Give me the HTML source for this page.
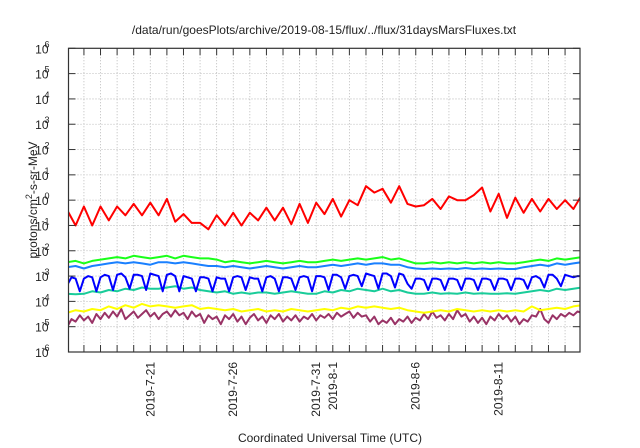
<!DOCTYPE html>
<html><head><meta charset="utf-8"><style>
html,body{margin:0;padding:0;background:#fff;}
svg{display:block;font-family:"Liberation Sans",sans-serif;}
</style></head><body>
<svg width="640" height="448" viewBox="0 0 640 448">
<rect width="640" height="448" fill="#fff"/>
<text x="324" y="34" font-size="12" text-anchor="middle" fill="#222">/data/run/goesPlots/archive/2019-08-15/flux/../flux/31daysMarsFluxes.txt</text>
<g id="grid"></g>
<g id="series"></g>
<g id="axes"></g>
<text transform="translate(37,200) rotate(-90)" font-size="12" text-anchor="middle" fill="#222">protons/cm<tspan dy="-5" font-size="9">2</tspan><tspan dy="5">-s-sr-MeV</tspan></text>
<text x="330" y="442" font-size="12" text-anchor="middle" fill="#222">Coordinated Universal Time (UTC)</text>
</svg>
<script>
const yTicks=[-6,-5,-4,-3,-2,-1,0,1,2,3,4,5,6];
const xLabels=["2019-7-21","2019-7-26","2019-7-31","2019-8-1","2019-8-6","2019-8-11"];
const xLabelDays=[5,10,15,16,21,26];
const red=[-0.4,-1.0,-0.25,-1.0,-0.25,-0.8,-0.25,-0.6,-0.15,-0.6,-0.1,-0.6,0.05,-0.85,-0.55,-0.9,-0.9,-1.15,-0.6,-1.0,-0.5,-1.0,-0.5,-0.8,-0.3,-0.8,-0.3,-0.95,-0.15,-0.9,-0.1,-0.55,0.05,-0.65,0.0,-0.2,0.55,0.3,0.45,-0.1,0.55,-0.15,-0.25,-0.2,0.05,-0.35,0.15,0.0,0.0,0.2,0.5,-0.45,0.25,-0.7,0.1,-0.5,0.05,-0.45,0.05,-0.35,0.0,-0.35,0.2];
const green=[-2.45,-2.4,-2.5,-2.4,-2.35,-2.3,-2.25,-2.3,-2.2,-2.25,-2.3,-2.25,-2.2,-2.3,-2.2,-2.25,-2.3,-2.3,-2.35,-2.45,-2.4,-2.45,-2.5,-2.45,-2.4,-2.45,-2.5,-2.45,-2.4,-2.45,-2.45,-2.4,-2.35,-2.4,-2.35,-2.3,-2.35,-2.3,-2.25,-2.35,-2.3,-2.4,-2.5,-2.5,-2.45,-2.5,-2.45,-2.5,-2.45,-2.5,-2.45,-2.5,-2.45,-2.5,-2.5,-2.45,-2.4,-2.35,-2.4,-2.3,-2.35,-2.3,-2.25];
const lightBlue=[-2.65,-2.6,-2.7,-2.6,-2.55,-2.5,-2.45,-2.5,-2.45,-2.5,-2.55,-2.45,-2.45,-2.5,-2.45,-2.5,-2.55,-2.6,-2.6,-2.65,-2.6,-2.65,-2.7,-2.65,-2.6,-2.65,-2.7,-2.65,-2.6,-2.65,-2.65,-2.6,-2.55,-2.6,-2.55,-2.5,-2.55,-2.5,-2.5,-2.55,-2.55,-2.65,-2.7,-2.72,-2.7,-2.72,-2.7,-2.72,-2.68,-2.72,-2.7,-2.72,-2.7,-2.72,-2.72,-2.65,-2.6,-2.55,-2.6,-2.5,-2.55,-2.5,-2.45];
const blue=[-3.35,-3.05,-3.1,-3.6,-3.1,-3.0,-3.05,-3.6,-3.05,-2.95,-3.0,-3.55,-2.95,-2.9,-3.05,-3.5,-2.95,-2.95,-3.0,-3.55,-2.9,-2.95,-3.0,-3.6,-2.95,-2.9,-3.0,-3.6,-3.0,-3.05,-3.1,-3.6,-3.05,-3.05,-3.1,-3.6,-3.05,-3.1,-3.1,-3.6,-3.05,-3.0,-3.05,-3.55,-3.05,-3.1,-3.1,-3.6,-3.05,-3.0,-3.1,-3.6,-3.05,-3.05,-3.1,-3.55,-3.05,-3.0,-3.05,-3.6,-3.0,-3.0,-3.05,-3.55,-2.95,-2.95,-3.05,-3.5,-3.0,-2.95,-3.0,-3.4,-2.9,-2.95,-3.0,-3.5,-2.9,-2.9,-3.0,-3.45,-2.9,-2.95,-3.3,-3.5,-3.1,-3.1,-3.15,-3.55,-3.1,-3.1,-3.15,-3.55,-3.1,-3.1,-3.15,-3.55,-3.1,-3.1,-3.15,-3.55,-3.1,-3.1,-3.15,-3.55,-3.1,-3.1,-3.15,-3.55,-3.1,-3.1,-3.15,-3.5,-3.05,-3.0,-3.1,-3.45,-2.95,-2.95,-3.1,-3.4,-2.95,-3.0,-3.05,-3.0,-3.0];
const teal=[-3.7,-3.72,-3.7,-3.6,-3.65,-3.55,-3.6,-3.5,-3.55,-3.45,-3.5,-3.5,-3.45,-3.4,-3.5,-3.45,-3.55,-3.6,-3.65,-3.6,-3.7,-3.65,-3.7,-3.65,-3.65,-3.7,-3.65,-3.6,-3.65,-3.7,-3.7,-3.6,-3.65,-3.55,-3.6,-3.5,-3.55,-3.6,-3.5,-3.6,-3.55,-3.65,-3.7,-3.7,-3.65,-3.7,-3.68,-3.7,-3.65,-3.7,-3.68,-3.7,-3.7,-3.68,-3.7,-3.65,-3.6,-3.55,-3.6,-3.5,-3.55,-3.5,-3.45];
const yellow=[-4.45,-4.35,-4.4,-4.3,-4.35,-4.2,-4.3,-4.15,-4.25,-4.1,-4.2,-4.15,-4.2,-4.25,-4.2,-4.15,-4.3,-4.25,-4.3,-4.35,-4.3,-4.4,-4.35,-4.3,-4.4,-4.35,-4.4,-4.3,-4.35,-4.4,-4.35,-4.3,-4.35,-4.25,-4.3,-4.2,-4.25,-4.2,-4.25,-4.3,-4.25,-4.35,-4.4,-4.45,-4.4,-4.35,-4.4,-4.3,-4.35,-4.4,-4.35,-4.4,-4.35,-4.4,-4.35,-4.4,-4.2,-4.35,-4.3,-4.25,-4.3,-4.2,-4.15];
const purple=[-5.0,-4.7,-4.8,-4.55,-4.75,-4.6,-4.85,-4.5,-4.7,-4.45,-4.65,-4.4,-4.6,-4.3,-4.7,-4.55,-4.4,-4.65,-4.5,-4.35,-4.6,-4.45,-4.7,-4.5,-4.4,-4.6,-4.35,-4.55,-4.45,-4.7,-4.4,-4.6,-4.5,-4.85,-4.55,-4.7,-4.6,-4.9,-4.55,-4.7,-4.5,-4.8,-4.6,-4.9,-4.65,-4.5,-4.75,-4.6,-4.85,-4.55,-4.7,-4.5,-4.8,-4.6,-4.75,-4.55,-4.8,-4.6,-4.7,-4.5,-4.75,-4.55,-4.65,-4.5,-4.7,-4.45,-4.6,-4.5,-4.4,-4.65,-4.45,-4.6,-4.55,-4.8,-4.6,-4.9,-4.75,-4.85,-4.65,-4.9,-4.7,-4.8,-4.6,-4.85,-4.65,-4.75,-4.5,-4.7,-4.4,-4.65,-4.55,-4.75,-4.5,-4.7,-4.35,-4.6,-4.5,-4.8,-4.6,-4.85,-4.65,-4.9,-4.6,-4.75,-4.5,-4.7,-4.55,-4.8,-4.6,-4.9,-4.7,-4.8,-4.55,-4.6,-4.3,-4.7,-4.85,-4.55,-4.7,-4.5,-4.6,-4.45,-4.55,-4.4,-4.45];
const seriesList=[
 {name:"series-purple",data:purple,step:0.25,color:"#993366"},
 {name:"series-yellow",data:yellow,step:0.5,color:"#ffff00"},
 {name:"series-teal",data:teal,step:0.5,color:"#19cc99"},
 {name:"series-blue",data:blue,step:0.25,color:"#0000ff"},
 {name:"series-lightblue",data:lightBlue,step:0.5,color:"#1a80ff"},
 {name:"series-green",data:green,step:0.5,color:"#19ff19"},
 {name:"series-red",data:red,step:0.5,color:"#ff0000"}
];
const L=68.5,R=580,T=48.3,B=352;
const D0=0.07,D1=30.9;
function xs(d){return L+(d-D0)/(D1-D0)*(R-L);}
function ys(v){return B-(v+6)/12*(B-T);}
const NS="http://www.w3.org/2000/svg";
function mk(tag,attrs,parent){const e=document.createElementNS(NS,tag);for(const k in attrs)e.setAttribute(k,attrs[k]);parent.appendChild(e);return e;}
const grid=document.getElementById('grid'),axes=document.getElementById('axes'),sg=document.getElementById('series');
// clip
const defs=mk('defs',{},sg);const cp=mk('clipPath',{id:'pc'},defs);mk('rect',{x:L,y:T,width:R-L,height:B-T},cp);
for(let d=1;d<=30;d++){const x=xs(d);
 const g=mk('line',{x1:x,x2:x,y1:T,y2:B,stroke:'#aaa','stroke-width':0.8,'stroke-dasharray':'1,2'},grid);
 
 
 const t1=mk('line',{x1:x,x2:x,y1:B,y2:B-7,stroke:'#333','stroke-width':1},axes);
 
 
 const t2=mk('line',{x1:x,x2:x,y1:T,y2:T+7,stroke:'#333','stroke-width':1},axes);
 
 
}
yTicks.forEach(v=>{const y=ys(v);
 if(v>-6&&v<6){const g=mk('line',{x1:L,x2:R,y1:y,y2:y,stroke:'#aaa','stroke-width':0.8,'stroke-dasharray':'1,2'},grid);
 
 }
 const t=mk('line',{x1:L,x2:L+7,y1:y,y2:y,stroke:'#333'},axes);
 
 
 const t2=mk('line',{x1:R,x2:R-7,y1:y,y2:y,stroke:'#333'},axes);
 
 
 const tx=mk('text',{x:L-20,y:y+5,'font-size':12,'text-anchor':'end',fill:'#222'},axes);
 
 
 tx.textContent='10';
 const sp=mk('tspan',{dy:-6,'font-size':9,x:L-19},tx);sp.textContent=String(v);
});
xLabels.forEach((lab,i)=>{const x=xs(xLabelDays[i]);
 const tx=mk('text',{transform:`translate(${x+4},${B+10}) rotate(-90)`,'font-size':12,'text-anchor':'end',fill:'#222'},axes);
 
 
 tx.textContent=lab;
});
const fr=mk('rect',{x:L,y:T,width:R-L,height:B-T,fill:'none',stroke:'#333','stroke-width':1.2},axes);


seriesList.forEach(s=>{
 const pts=s.data.map((v,i)=>xs(i*s.step).toFixed(1)+','+ys(v).toFixed(1)).join(' ');
 const p=mk('polyline',{points:pts,fill:'none',stroke:s.color,'stroke-width':2,'stroke-linejoin':'round','clip-path':'url(#pc)'},sg);
 
 
});
</script>
</body></html>
